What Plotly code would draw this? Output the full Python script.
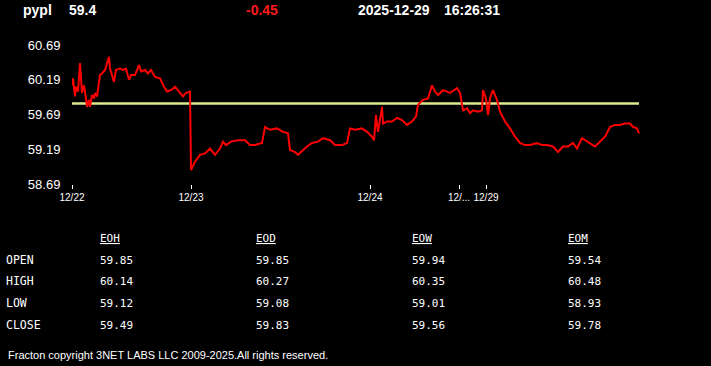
import plotly.graph_objects as go

# ---- data ----
symbol = "pypl"
last_price = "59.4"
change = "-0.45"
quote_date = "2025-12-29"
quote_time = "16:26:31"

bar = [0, 1, 3, 4, 6, 8, 10, 12, 13, 15, 17, 18, 20, 22, 23, 25, 28, 30, 33, 34,
       37, 38, 40, 42, 44, 48, 51, 54, 57, 59, 63, 67, 69, 73, 76, 79, 83, 88, 92, 95,
       99, 103, 107, 111, 114, 118, 119, 123, 128, 133, 138, 143, 148, 151, 154, 159, 166, 173, 178, 183,
       190, 193, 198, 205, 211, 216, 218, 223, 226, 231, 235, 240, 246, 251, 258, 263, 270, 275, 278, 283,
       290, 295, 300, 302, 304, 306, 310, 311, 315, 320, 325, 330, 335, 340, 344, 346, 351, 356, 360, 363,
       366, 371, 378, 385, 388, 391, 395, 398, 401, 406, 410, 411, 414, 416, 418, 421, 425, 428, 433, 438,
       443, 448, 453, 458, 465, 470, 475, 481, 486, 491, 496, 501, 505, 510, 515, 520, 523, 528, 533, 538,
       543, 548, 553, 558, 561, 565, 567]
price = [60.11, 60.21, 59.95, 60.09, 60.02, 60.43, 60.00, 60.11, 60.02, 59.80, 59.90, 59.80, 59.97, 59.92, 60.00, 59.95, 60.26, 60.28, 60.33, 60.38,
         60.52, 60.35, 60.26, 60.16, 60.33, 60.35, 60.33, 60.35, 60.19, 60.26, 60.26, 60.40, 60.31, 60.33, 60.28, 60.33, 60.23, 60.21, 60.09, 60.02,
         60.04, 60.09, 60.02, 59.95, 60.00, 60.02, 58.89, 59.01, 59.11, 59.13, 59.20, 59.11, 59.20, 59.30, 59.25, 59.30, 59.32, 59.32, 59.25, 59.25,
         59.28, 59.51, 59.47, 59.49, 59.44, 59.42, 59.18, 59.15, 59.11, 59.18, 59.23, 59.28, 59.30, 59.35, 59.32, 59.25, 59.25, 59.28, 59.49, 59.47,
         59.49, 59.44, 59.37, 59.32, 59.68, 59.44, 59.80, 59.56, 59.59, 59.59, 59.64, 59.61, 59.54, 59.59, 59.66, 59.83, 59.90, 59.92, 60.11, 60.02,
         59.97, 60.04, 60.00, 60.07, 60.00, 59.75, 59.78, 59.71, 59.75, 59.73, 59.75, 60.04, 59.92, 59.68, 59.92, 60.04, 59.90, 59.73, 59.59, 59.49,
         59.37, 59.28, 59.25, 59.25, 59.28, 59.25, 59.25, 59.23, 59.15, 59.23, 59.23, 59.28, 59.20, 59.35, 59.30, 59.25, 59.23, 59.30, 59.37, 59.51,
         59.54, 59.54, 59.56, 59.56, 59.51, 59.49, 59.42]
ref_level = 59.85

day_ticks = [0, 119, 298, 387, 414]
day_labels = ["12/22", "12/23", "12/24", "12/...", "12/29"]
y_ticks = [58.69, 59.19, 59.69, 60.19, 60.69]

row_labels = ["OPEN", "HIGH", "LOW", "CLOSE"]
col_labels = ["EOH", "EOD", "EOW", "EOM"]
table_values = {
    "EOH": ["59.85", "60.14", "59.12", "59.49"],
    "EOD": ["59.85", "60.27", "59.08", "59.83"],
    "EOW": ["59.94", "60.35", "59.01", "59.56"],
    "EOM": ["59.54", "60.48", "58.93", "59.78"],
}
footer = "Fracton copyright 3NET LABS LLC 2009-2025.All rights reserved."

# ---- layout geometry (pixels) ----
W, H = 711, 366
L, R, T, B = 72, 71, 45, 182
PW, PH = W - L - R, H - T - B


def px(x):
    return (x - L) / PW


def py(y):
    return (H - B - y) / PH


fig = go.Figure()
fig.add_trace(go.Scatter(x=[bar[0], bar[-1]], y=[ref_level, ref_level], mode="lines",
                         line=dict(color="rgb(222,232,140)", width=2.5), hoverinfo="skip"))
fig.add_trace(go.Scatter(x=bar, y=price, mode="lines",
                         line=dict(color="#ff0000", width=2), hoverinfo="skip"))

ann = []


def add(text, x, y, size, color="white", family="Liberation Sans, Arial", anchor="left"):
    # annotation boxes carry ~2px inner padding; compensate so text starts at x
    ann.append(dict(text=text, x=px(x - 2), y=py(y), xref="paper", yref="paper",
                    xanchor=anchor, yanchor="middle", showarrow=False,
                    font=dict(size=size, color=color, family=family)))


add("<b>" + symbol + "</b>", 23, 10, 14)
add("<b>" + last_price + "</b>", 69, 10, 14)
add("<b>" + change + "</b>", 246, 10, 14, color="#ff1a1a")
add("<b>" + quote_date + "</b>", 358, 10, 14)
add("<b>" + quote_time + "</b>", 444, 10, 14)

mono = "DejaVu Sans Mono, monospace"
col_x = [100, 256, 412, 568]
row_y = [260, 281, 303, 325]
for cx, c in zip(col_x, col_labels):
    add("<u>" + c + "</u>", cx, 238, 11, family=mono)
    for ry, v in zip(row_y, table_values[c]):
        add(v, cx, ry, 11, family=mono)
for ry, r in zip(row_y, row_labels):
    add(r, 6, ry, 11.5, family=mono)

add(footer, 8, 355, 11)

fig.update_layout(
    width=W, height=H,
    margin=dict(l=L, r=R, t=T, b=B, pad=0),
    paper_bgcolor="black", plot_bgcolor="black",
    showlegend=False,
    annotations=ann,
    xaxis=dict(range=[0, PW], tickvals=day_ticks, ticktext=day_labels,
               showgrid=False, zeroline=False, showline=False,
               ticks="outside", ticklen=4, tickwidth=1, tickcolor="white",
               tickfont=dict(size=10, color="white", family="Liberation Sans, Arial"),
               fixedrange=True),
    yaxis=dict(range=[58.69, 60.69], tickvals=y_ticks, ticktext=[f"{v:.2f}" for v in y_ticks],
               showgrid=False, zeroline=False, showline=False,
               ticks="outside", ticklen=8, tickcolor="rgba(0,0,0,0)",
               tickfont=dict(size=13, color="white", family="Liberation Sans, Arial"),
               fixedrange=True),
)

fig.write_html("out.html", config={"displayModeBar": False})
